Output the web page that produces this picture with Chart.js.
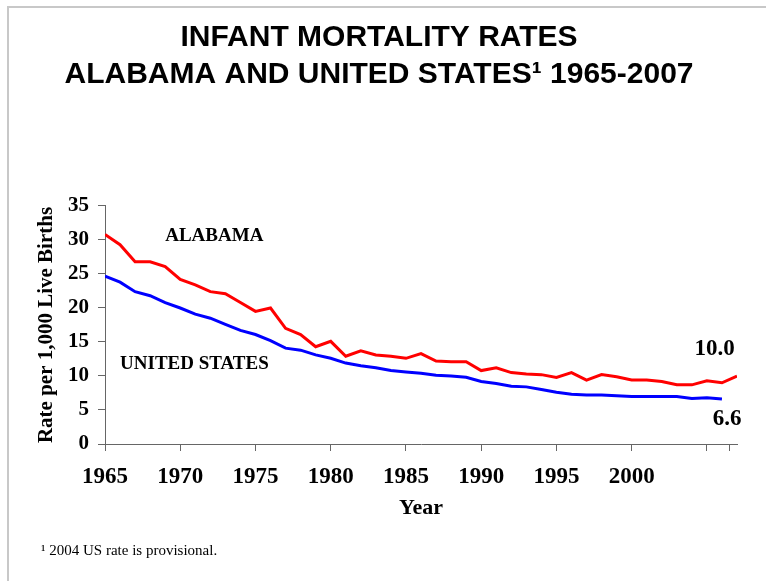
<!DOCTYPE html>
<html>
<head>
<meta charset="utf-8">
<script src="https://cdn.jsdelivr.net/npm/chart.js@4.4.0/dist/chart.umd.min.js"></script>
<style>
  html, body { margin: 0; padding: 0; background: #fff; }
  #wrap { position: relative; width: 766px; height: 581px; }
  #frame { position: absolute; left: 7px; top: 6px; width: 780px; height: 600px; border-left: 2px solid #c8c8c8; border-top: 2px solid #c8c8c8; }
  canvas { position: absolute; left: 0; top: 0; }
</style>
</head>
<body>
<div id="wrap">
  <div id="frame"></div>
  <canvas id="c" width="766" height="581"></canvas>
</div>
<script>
const years = [1965,1966,1967,1968,1969,1970,1971,1972,1973,1974,1975,1976,1977,1978,1979,1980,1981,1982,1983,1984,1985,1986,1987,1988,1989,1990,1991,1992,1993,1994,1995,1996,1997,1998,1999,2000,2001,2002,2003,2004,2005,2006,2007];
const alabama = [30.8,29.3,26.8,26.8,26.1,24.2,23.4,22.4,22.1,20.8,19.5,20.0,17.0,16.1,14.3,15.1,12.9,13.7,13.1,12.9,12.6,13.3,12.2,12.1,12.1,10.8,11.2,10.5,10.3,10.2,9.8,10.5,9.4,10.2,9.9,9.4,9.4,9.2,8.7,8.7,9.3,9.0,10.0];
const unitedStates = [24.7,23.8,22.4,21.8,20.8,20.0,19.1,18.5,17.6,16.7,16.1,15.2,14.1,13.8,13.1,12.6,11.9,11.5,11.2,10.8,10.6,10.4,10.1,10.0,9.8,9.2,8.9,8.5,8.4,8.0,7.6,7.3,7.2,7.2,7.1,7.0,7.0,7.0,7.0,6.7,6.8,6.6];
const yTicks = [0,5,10,15,20,25,30,35];
const xTickLabels = [1965,1970,1975,1980,1985,1990,1995,2000];
const titleLines = ['INFANT MORTALITY RATES', 'ALABAMA AND UNITED STATES\u00B9 1965-2007'];
const seriesLabels = ['ALABAMA', 'UNITED STATES'];
const endLabels = ['10.0', '6.6'];
const footnote = '\u00B9 2004 US rate is provisional.';

const serif = "'Liberation Serif', 'Times New Roman', serif";

const toPoints = (vals) => vals.map((v, i) => ({x: years[i], y: v}));

const annotations = {
  id: 'annotations',
  afterDraw(chart) {
    const {ctx, scales: {x, y}} = chart;
    ctx.save();
    ctx.fillStyle = '#000';
    ctx.textBaseline = 'middle';
    ctx.font = 'bold 19px ' + serif;
    ctx.textAlign = 'left';
    ctx.fillText(seriesLabels[0], x.getPixelForValue(1969), y.getPixelForValue(30.6));
    ctx.fillText(seriesLabels[1], x.getPixelForValue(1966), y.getPixelForValue(11.8));
    ctx.font = 'bold 23px ' + serif;
    ctx.textAlign = 'right';
    ctx.fillText(endLabels[0], x.getPixelForValue(2006.85), y.getPixelForValue(13.9));
    ctx.fillText(endLabels[1], x.getPixelForValue(2007.3), y.getPixelForValue(3.6));
    ctx.font = '15px ' + serif;
    ctx.textAlign = 'left';
    ctx.fillText(footnote, 41, 551);
    ctx.restore();
  }
};

new Chart(document.getElementById('c'), {
  type: 'line',
  data: {
    datasets: [
      { label: seriesLabels[0], data: toPoints(alabama), borderColor: '#ff0000', borderWidth: 3, pointRadius: 0, tension: 0, fill: false },
      { label: seriesLabels[1], data: toPoints(unitedStates), borderColor: '#0000ff', borderWidth: 3, pointRadius: 0, tension: 0, fill: false }
    ]
  },
  options: {
    responsive: false,
    animation: false,
    layout: { padding: { left: 21, right: 29, top: 0, bottom: 37 } },
    plugins: {
      legend: { display: false },
      tooltip: { enabled: false },
      title: {
        display: true,
        text: titleLines,
        color: '#000',
        font: { family: "'Liberation Sans', Arial, sans-serif", size: 30, weight: 'bold', lineHeight: 1.233 },
        padding: { top: 19.5, bottom: 112.5 }
      }
    },
    scales: {
      x: {
        type: 'linear',
        min: 1965,
        max: 2007,
        afterBuildTicks(scale) {
          const t = [];
          for (let v = 1965; v <= 2005; v += 5) t.push({value: v});
          t.push({value: 2006.5});
          scale.ticks = t;
        },
        afterFit(scale) { scale.height = 100; },
        grid: { drawOnChartArea: false, drawTicks: true, tickLength: 7, color: '#666' },
        border: { display: true, color: '#666', width: 1 },
        ticks: {
          color: '#000',
          padding: 12,
          maxRotation: 0,
          autoSkip: false,
          font: { family: serif, size: 23, weight: 'bold' },
          callback: (v) => xTickLabels.includes(v) ? String(v) : ''
        },
        title: {
          display: true,
          text: 'Year',
          color: '#000',
          font: { family: serif, size: 22, weight: 'bold', lineHeight: 1.2 },
          padding: { top: 0, bottom: 22 }
        }
      },
      y: {
        min: 0,
        max: 35,
        afterBuildTicks(scale) { scale.ticks = yTicks.map(v => ({value: v})); },
        afterFit(scale) { scale.width = 84; },
        grid: { drawOnChartArea: false, drawTicks: true, tickLength: 7, color: '#666' },
        border: { display: true, color: '#666', width: 1 },
        ticks: {
          color: '#000',
          padding: 9,
          font: { family: serif, size: 21, weight: 'bold' }
        },
        title: {
          display: true,
          text: 'Rate per 1,000 Live Births',
          color: '#000',
          font: { family: serif, size: 21, weight: 'bold', lineHeight: 1.2 },
          padding: { top: 13, bottom: 0 }
        }
      }
    }
  },
  plugins: [annotations]
});
</script>
</body>
</html>
